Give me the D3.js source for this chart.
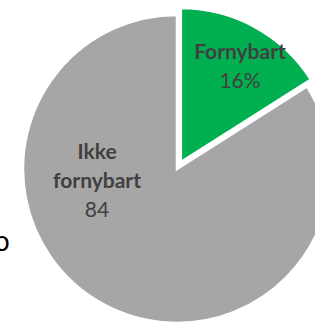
<!DOCTYPE html>
<html>
<head>
<meta charset="utf-8">
<script src="https://cdn.jsdelivr.net/npm/d3@7"></script>
<style>
  body { margin: 0; background: #fff; overflow: hidden; }
  svg { display: block; }
</style>
</head>
<body>
<script>
// data
var categories = ["Fornybart", "Ikke fornybart"];
var values = [16, 84];
var valueLabels = ["16%", "84"];
var colors = ["#00b050", "#a6a6a6"];
var exploded = [true, false];

var width = 315;
var height = 322;
var cx = 177, cy = 169;
var radius = 154;
var explode = 8;

var svg = d3.select("body").append("svg")
    .attr("width", width)
    .attr("height", height);

// leftover glyph from neighbouring text, cut by the crop
svg.append("text")
    .attr("x", -6)
    .attr("y", 251)
    .style("font-family", "'DejaVu Sans', sans-serif")
    .style("font-size", "26px")
    .style("fill", "#000")
    .text("o");

var pie = d3.pie().sort(null).value(function(d) { return d; });
var arcs = pie(values);

var arc = d3.arc().innerRadius(0).outerRadius(radius);

var g = svg.append("g").attr("transform", "translate(" + cx + "," + cy + ")");

function offset(d, i) {
  if (!exploded[i]) return [0, 0];
  var a = (d.startAngle + d.endAngle) / 2;
  return [Math.sin(a) * explode, -Math.cos(a) * explode];
}

g.selectAll("path.slice")
  .data(arcs)
  .enter()
  .append("path")
    .attr("class", "slice")
    .attr("transform", function(d, i) {
      var o = offset(d, i);
      return "translate(" + o[0] + "," + o[1] + ")";
    })
    .attr("d", arc)
    .style("fill", function(d, i) { return colors[i]; })
    .style("stroke", "#fff")
    .style("stroke-width", 2.5);

// labels (position relative to the pie centre)
var labelPos = [[63, -110], [-80, -10]];
var lineH = 29;

arcs.forEach(function(d, i) {
  var t = g.append("text")
      .attr("text-anchor", "middle")
      .style("font-family", "Lato, sans-serif")
      .style("font-size", "21px")
      .style("fill", "#404040");
  var words = i === 1 ? ["Ikke", "fornybart"] : [categories[i]];
  var y0 = labelPos[i][1];
  words.forEach(function(w, k) {
    t.append("tspan")
      .attr("x", labelPos[i][0])
      .attr("y", y0 + k * lineH)
      .style("font-weight", "bold")
      .text(w);
  });
  t.append("tspan")
    .attr("x", labelPos[i][0])
    .attr("y", y0 + words.length * lineH)
    .text(valueLabels[i]);
});
</script>
</body>
</html>
